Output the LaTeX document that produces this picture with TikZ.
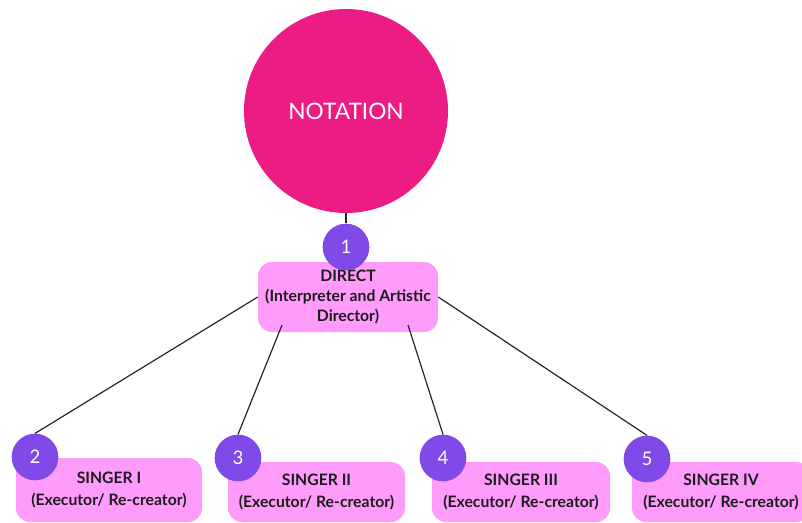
\documentclass[tikz,border=0pt]{standalone}
\usepackage{fontspec}
\setmainfont{Lato}
\definecolor{notapink}{RGB}{236,28,132}
\definecolor{numpurple}{RGB}{128,74,232}
\definecolor{boxpink}{RGB}{255,155,250}
\definecolor{txtblack}{RGB}{28,28,28}
\begin{document}
\begin{tikzpicture}[x=0.75pt,y=-0.75pt,font=\bfseries\fontsize{11.8}{16.5}\selectfont,
	box/.style={fill=boxpink,rounded corners=10.5pt,text=txtblack,align=center,inner sep=0pt},
	num/.style={circle,fill=numpurple,minimum size=35pt,inner sep=0pt,text=white,font=\fontsize{14}{14}\selectfont},
	link/.style={line width=0.9pt,black!85}]
	\useasboundingbox (0,0) rectangle (802,522);
	% top
	\node[circle,fill=notapink,minimum size=153pt,inner sep=0pt,text=white,font=\fontsize{17}{20}\selectfont] (nota) at (346,111) {NOTATION};
	\node[box,minimum width=135pt,minimum height=52.5pt,font=\bfseries\fontsize{11.8}{15.3}\selectfont] (dir) at (348,297) {DIRECT\\(Interpreter and Artistic\\Director)};
	% singers
	\node[box,minimum width=139.5pt,minimum height=48pt] (s1) at (109,490) {SINGER I\\(Executor/ Re-creator)};
	\node[box,minimum width=132.75pt,minimum height=45pt] (s2) at (316.5,492) {SINGER II\\(Executor/ Re-creator)};
	\node[box,minimum width=133.5pt,minimum height=45pt] (s3) at (521,492) {SINGER III\\(Executor/ Re-creator)};
	\node[box,minimum width=133.5pt,minimum height=45pt] (s4) at (721,492) {SINGER IV\\(Executor/ Re-creator)};
	% numbers
	\node[num] (n1) at (346,247) {1};
	\node[num] (n2) at (35,457) {2};
	\node[num] (n3) at (238,458) {3};
	\node[num] (n4) at (443,458) {4};
	\node[num] (n5) at (647,459) {5};
	\coordinate (d2) at (282,325);
	\coordinate (d3) at (408,325);
	\draw[link] (nota.south) -- (n1.north);
	\draw[link] (dir.west) -- (n2.north);
	\draw[link] (d2) -- (n3.north);
	\draw[link] (d3) -- (n4.north);
	\draw[link] (dir.east) -- (n5.north);
\end{tikzpicture}
\end{document}
